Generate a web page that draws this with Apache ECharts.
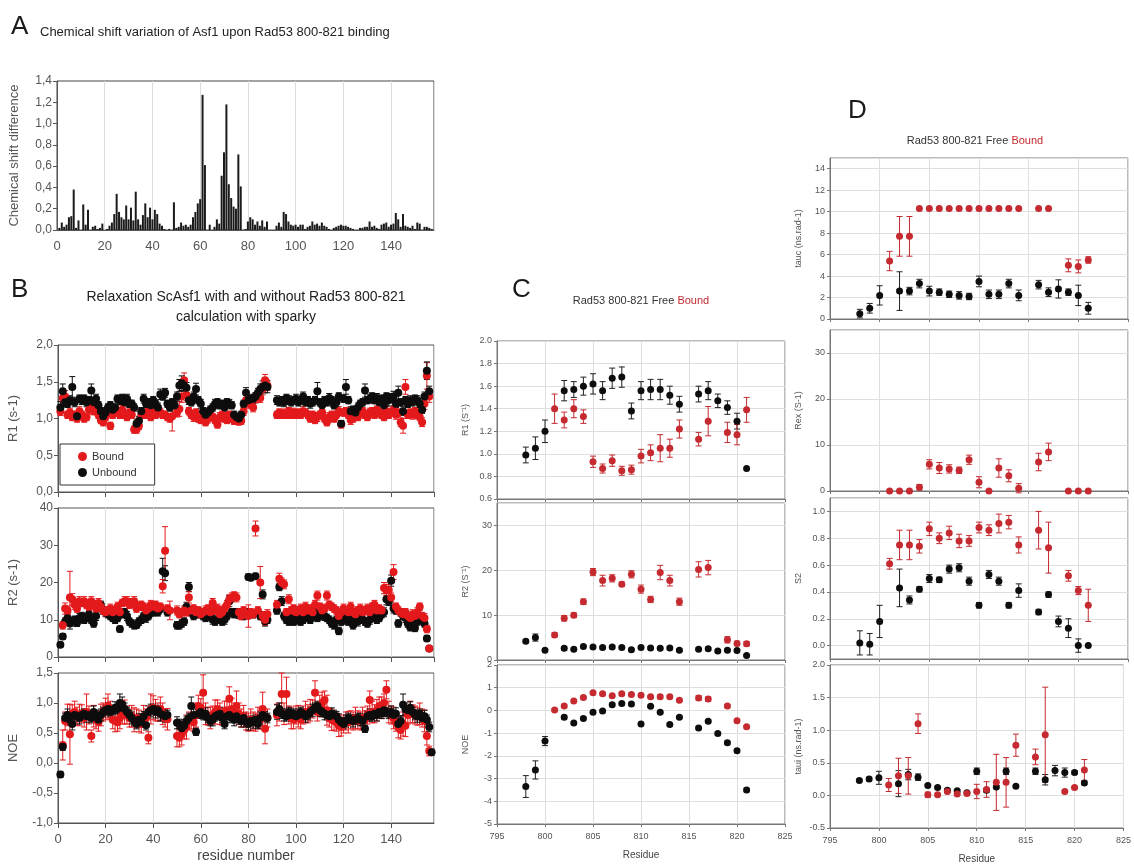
<!DOCTYPE html>
<html>
<head>
<meta charset="utf-8">
<script src="https://cdn.jsdelivr.net/npm/echarts/dist/echarts.min.js"></script>
<style>
html, body { margin: 0; padding: 0; background: #fff; }
#main { width: 1134px; height: 865px; }
</style>
</head>
<body>
<div id="main"></div>
<script>
/* ---------- A : chemical shift difference, residue 1..157 ---------- */
var shiftVal = [
  0.02, 0.07, 0.03, 0.05, 0.12, 0.13, 0.38, 0.02, 0.09, 0.00,
  0.24, 0.05, 0.19, 0.00, 0.03, 0.04, 0.01, 0.02, 0.06, 0.00,
  0.01, 0.04, 0.07, 0.15, 0.34, 0.17, 0.12, 0.10, 0.23, 0.10,
  0.21, 0.09, 0.36, 0.10, 0.05, 0.14, 0.25, 0.12, 0.21, 0.10,
  0.19, 0.15, 0.06, 0.04, 0.01, 0.00, 0.01, 0.00, 0.26, 0.02,
  0.03, 0.07, 0.04, 0.05, 0.03, 0.05, 0.12, 0.17, 0.25, 0.29,
  1.27, 0.61, 0.00, 0.05, 0.00, 0.03, 0.10, 0.06, 0.51, 0.73,
  1.18, 0.43, 0.30, 0.22, 0.20, 0.71, 0.41, 0.00, 0.01, 0.08,
  0.12, 0.10, 0.05, 0.08, 0.04, 0.09, 0.03, 0.08, 0.00, 0.00,
  0.00, 0.04, 0.07, 0.03, 0.17, 0.15, 0.08, 0.05, 0.04, 0.05,
  0.03, 0.05, 0.05, 0.01, 0.03, 0.04, 0.08, 0.05, 0.06, 0.04,
  0.07, 0.04, 0.03, 0.01, 0.00, 0.02, 0.03, 0.04, 0.05, 0.04,
  0.04, 0.03, 0.02, 0.01, 0.00, 0.00, 0.02, 0.02, 0.03, 0.03,
  0.08, 0.03, 0.04, 0.02, 0.01, 0.05, 0.06, 0.07, 0.03, 0.05,
  0.06, 0.16, 0.10, 0.03, 0.15, 0.04, 0.03, 0.02, 0.04, 0.01,
  0.07, 0.06, 0.00, 0.03, 0.03, 0.02, 0.01
];

/* ---------- B : relaxation of ScAsf1, residue 1..157 ---------- */
var r1Unbound = [
  1.15, 1.37, 1.22, 1.20, 1.25, 1.43, 1.22, 1.03, 1.27, 1.25,
  1.27, 1.22, 1.25, 1.38, 1.22, 1.27, 1.18, 1.10, 1.03, 1.08,
  1.15, 1.18, 1.12, 1.15, 1.27, 1.25, 1.28, 1.22, 1.27, 1.20,
  1.20, 1.15, 0.93, 0.97, 1.10, 1.27, 1.20, 1.22, 1.18, 1.25,
  1.20, 1.15, 1.33, 1.30, 1.35, 1.20, 1.15, 1.22, 1.18, 1.30,
  1.45, 1.48, 1.45, 1.42, 1.25, 1.22, 1.30, 1.40, 1.25, 1.20,
  1.10, 1.05, 1.08, 1.12, 1.15, 1.20, 1.22, 1.18, 1.20, 1.15,
  1.22, 1.20, 1.18, 1.05, 1.02, 1.00, 1.05, 1.20, 1.35, 1.25,
  1.27, 1.27, 1.30, 1.35, 1.40, 1.43, 1.45, 1.43, null, null,
  null, 1.25, 1.22, 1.25, 1.22, 1.28, 1.25, 1.22, 1.25, 1.27,
  1.22, 1.25, 1.30, 1.22, 1.25, 1.20, 1.22, 1.25, 1.37, 1.22,
  1.18, 1.25, 1.22, 1.28, 1.25, 1.18, 1.22, 1.30, 0.93, 1.27,
  1.43, 1.25, 1.10, 1.12, 1.08, 1.15, 1.20, 1.22, 1.38, 1.25,
  1.27, 1.30, 1.25, 1.28, 1.22, 1.27, 1.18, 1.30, 1.25, 1.28,
  1.30, 1.20, 1.35, 1.22, 1.10, 1.25, 1.20, 1.25, 1.22, 1.27,
  1.25, 1.20, 1.12, 1.30, 1.65, 1.37, null
];
var r1UnboundErr = [
  .08, .10, .06, .05, .06, .14, .06, .05, .05, .06,
  .05, .06, .05, .09, .05, .06, .05, .05, .05, .06,
  .05, .05, .06, .05, .05, .06, .05, .05, .06, .05,
  .05, .05, .05, .06, .05, .06, .05, .05, .06, .05,
  .05, .06, .07, .05, .06, .05, .05, .05, .05, .06,
  .08, .10, .08, .07, .06, .05, .06, .08, .05, .06,
  .05, .05, .06, .05, .05, .06, .05, .05, .05, .06,
  .05, .06, .05, .05, .05, .06, .05, .05, .07, .06,
  .05, .06, .05, .06, .07, .08, .10, .08, null, null,
  null, .06, .05, .05, .06, .05, .06, .05, .05, .06,
  .05, .05, .06, .05, .05, .06, .05, .05, .12, .05,
  .06, .05, .05, .06, .05, .05, .06, .05, .04, .05,
  .10, .05, .06, .05, .05, .06, .05, .05, .09, .05,
  .06, .05, .05, .06, .05, .05, .06, .05, .08, .06,
  .07, .05, .09, .05, .06, .05, .05, .06, .05, .05,
  .06, .05, .05, .06, .12, .07, null
];
var r1Bound = [
  1.10, 1.28, 1.30, 1.05, 1.08, 1.02, 1.05, 1.00, 1.10, 1.05,
  1.00, 1.02, 1.12, 1.15, 1.10, 1.12, 1.05, 0.98, 0.95, 1.02,
  1.08, 0.90, 1.05, 1.10, 1.08, 1.05, 1.12, 1.05, 1.02, 1.08,
  1.05, 0.85, 0.85, 0.90, 1.05, 1.08, 1.05, 1.10, 1.02, 1.08,
  1.05, 1.10, 1.08, 1.05, 1.05, 1.02, 1.00, 1.03, null, 1.08,
  1.13, 1.30, 1.52, 1.32, 1.10, 1.05, 1.02, 1.08, 1.00, 0.98,
  1.02, 0.95, 1.00, 1.05, 1.02, 0.98, 0.92, 1.02, 1.05, 1.00,
  0.98, 1.05, 1.00, 0.97, 0.98, 0.96, 0.97, 1.10, 1.25, 1.20,
  1.22, 1.15, 1.28, 1.30, 1.28, 1.40, 1.52, 1.45, null, null,
  null, 1.05, 1.08, 1.05, 1.07, 1.05, 1.10, 1.05, 1.08, 1.05,
  1.08, 1.05, 1.10, 1.08, 1.05, 1.00, 1.05, 0.98, 1.02, 1.05,
  1.08, 1.00, 0.95, 1.02, 1.05, 1.00, 1.05, 1.10, 0.92, 1.08,
  1.10, 1.05, 0.98, 1.00, 1.05, 1.02, 1.08, 1.10, 1.05, 1.02,
  1.08, 1.10, 1.05, 1.12, 1.08, 1.05, 1.02, 1.10, 1.05, 1.08,
  1.12, 1.05, 1.08, 0.95, 0.90, 1.43, 1.05, 1.08, 1.05, 1.10,
  1.05, 1.02, 0.95, 1.20, 1.58, 1.30, null
];
var r1BoundErr = [
  .06, .08, .08, .05, .06, .05, .05, .05, .06, .05,
  .05, .05, .06, .05, .05, .06, .05, .05, .05, .05,
  .05, .05, .05, .06, .05, .05, .06, .05, .05, .05,
  .05, .05, .05, .05, .05, .06, .05, .05, .05, .06,
  .05, .05, .06, .05, .05, .05, .05, .20, null, .06,
  .10, .08, .10, .08, .05, .05, .06, .05, .05, .05,
  .05, .05, .06, .05, .05, .05, .05, .06, .05, .05,
  .05, .05, .05, .05, .05, .05, .05, .06, .07, .06,
  .05, .06, .07, .08, .06, .08, .08, .07, null, null,
  null, .05, .05, .05, .06, .05, .05, .05, .06, .05,
  .05, .05, .06, .05, .05, .05, .05, .05, .06, .05,
  .05, .05, .05, .06, .05, .05, .05, .06, .05, .05,
  .05, .05, .06, .05, .05, .05, .06, .05, .05, .05,
  .06, .05, .05, .05, .06, .05, .05, .06, .05, .05,
  .05, .06, .05, .06, .10, .10, .05, .05, .06, .05,
  .05, .05, .06, .08, .18, .08, null
];
var r2Unbound = [
  3.3, 5.5, 9.5, 10.5, 9.0, 9.5, 10.0, 9.2, 10.5, 11.0,
  10.0, 10.5, 11.5, 10.0, 9.0, 11.0, 13.5, 14.0, 12.5, 12.0,
  11.5, 11.0, 10.5, 10.0, 10.5, 7.5, 11.5, 12.0, 11.0, 9.5,
  9.0, 8.5, 8.5, 9.5, 10.0, 11.0, 10.5, 11.0, 12.0, 12.0,
  12.5, 12.0, 13.0, 23.0, 22.5, 12.0, null, null, null, 8.5,
  8.5, 9.0, 9.5, 13.5, 18.8, 12.0, 11.0, 11.5, 12.0, 11.5,
  11.0, 10.5, 11.5, 11.0, 10.0, 9.5, 10.0, 10.5, 9.5, 10.0,
  11.0, 15.0, 12.0, 11.5, 12.0, 11.5, 12.0, 11.0, 12.0, 21.5,
  21.3, 11.5, 21.7, 12.0, 11.0, 16.8, 9.5, 10.0, null, null,
  null, 12.5, 18.8, 15.0, 11.0, 10.0, 9.5, 10.5, 9.5, 10.0,
  10.5, 9.5, 10.0, 11.0, 10.5, 10.0, 11.0, 12.0, 10.5, 11.0,
  11.5, 11.0, 10.5, 10.0, 9.0, 8.5, 10.0, 7.0, 9.5, 10.0,
  10.5, 9.5, 10.0, 8.5, 10.0, 9.5, 10.5, 10.0, 9.5, 9.0,
  10.0, 10.5, 11.0, 10.0, 10.5, 11.5, 12.0, 15.5, 15.0, 20.5,
  13.0, 12.5, 9.0, 12.0, 11.0, 10.5, 9.0, 8.0, 8.5, 7.8,
  9.5, 10.5, 10.0, 9.0, 5.0, 2.3, null
];
var r2UnboundErr = [
  .6, .8, 1.0, 1.2, 1.5, 1.2, 1.0, 1.0, 1.2, 1.0,
  1.0, 1.0, 1.2, 1.0, 1.0, 1.2, 1.0, 1.0, 1.0, 1.2,
  1.0, 1.0, 1.0, 1.0, 1.0, .8, 1.0, 1.0, 1.2, 1.0,
  1.0, 1.0, .8, 1.0, 1.0, 1.0, 1.2, 1.0, 1.0, 1.0,
  1.0, 1.0, 1.0, 3.5, 2.0, 1.0, null, null, null, 1.0,
  1.0, 1.0, 1.0, 1.2, 1.2, 1.0, 1.0, 1.0, 1.2, 1.0,
  1.0, 1.0, 1.0, 1.0, 1.2, 1.0, 1.0, 1.0, 1.0, 1.2,
  1.0, 1.5, 1.0, 1.0, 1.0, 1.2, 1.0, 1.0, 1.0, .8,
  .8, 1.0, .8, 1.0, 1.0, 1.2, 1.2, 1.0, null, null,
  null, 1.0, 1.0, 1.2, 1.0, 1.0, 1.0, 1.0, 1.0, 1.2,
  1.0, 1.0, 1.0, 1.2, 1.0, 1.0, 1.0, 1.2, 1.0, 1.0,
  1.0, 1.2, 1.0, 1.0, 1.0, 1.0, 1.0, 1.0, 1.0, 1.2,
  1.0, 1.0, 1.0, 1.0, 1.0, 1.2, 1.0, 1.0, 1.0, 1.0,
  1.2, 1.0, 1.0, 1.0, 1.0, 1.0, 1.2, 1.5, 1.2, 1.5,
  1.2, 1.0, 1.0, 1.0, 1.0, 1.2, 1.0, 1.0, 1.0, 1.0,
  1.0, 1.0, 1.2, 1.0, .8, .5, null
];
var r2Bound = [
  null, 8.5, 13.0, 12.5, 16.0, 15.5, 14.0, 13.0, 15.0, 14.5,
  15.0, 14.0, 13.5, 15.0, 14.0, 13.0, 14.5, 13.5, 12.5, 12.0,
  12.5, 13.0, 12.0, 12.5, 13.5, 12.0, 14.5, 15.0, 15.0, 14.0,
  14.5, 15.0, 13.0, 13.5, 14.0, 13.5, 12.5, 13.0, 14.0, 13.5,
  14.0, 13.0, 13.5, 19.0, 28.5, 13.0, 12.5, null, null, 12.5,
  11.5, 12.0, 12.5, 12.0, 16.0, 12.5, 13.0, 12.0, 12.5, 11.5,
  12.0, 12.5, 13.0, 12.0, 14.5, 12.5, 13.0, 11.5, 12.0, 13.0,
  14.0, 15.5, 16.0, 16.5, 16.0, 12.0, 11.0, 12.5, 11.5, 11.0,
  12.0, 11.5, 34.5, 12.5, 20.0, 11.0, 10.0, 11.5, null, null,
  null, 14.0, 21.0, 20.0, 19.5, 12.0, 15.5, 12.5, 13.0, 12.0,
  12.5, 13.0, 12.0, 13.5, 12.5, 13.0, 12.0, 14.0, 16.5, 13.5,
  12.5, 13.0, 16.5, 14.0, 13.5, 13.0, 12.5, 11.0, 12.0, 13.0,
  12.5, 12.0, 13.5, 12.0, 11.5, 12.5, 13.0, 12.0, 12.5, 13.0,
  12.0, 13.5, 14.0, 12.5, 13.0, 12.5, 18.5, 18.0, 18.0, 16.0,
  22.8, 13.5, 12.5, 12.0, 11.5, 12.0, 11.0, 10.5, 11.5, 11.0,
  12.0, 13.5, 11.0, 10.5, 7.5, 2.3, null
];
var r2BoundErr = [
  null, 1.0, 1.5, 1.2, 7.0, 1.5, 1.2, 1.0, 1.2, 1.0,
  1.2, 1.0, 1.0, 1.2, 1.0, 1.0, 1.2, 1.0, 1.0, 1.0,
  1.0, 1.2, 1.0, 1.0, 1.2, 1.0, 1.0, 1.2, 1.2, 1.0,
  1.2, 1.2, 1.0, 1.0, 1.0, 1.0, 1.0, 1.0, 1.2, 1.0,
  1.0, 1.0, 1.0, 1.8, 6.5, 1.0, 2.5, null, null, 1.2,
  1.0, 1.0, 1.2, 1.0, 1.5, 1.0, 1.0, 1.0, 1.0, 1.0,
  1.0, 1.2, 1.0, 1.0, 1.2, 1.0, 1.2, 1.0, 1.0, 1.0,
  1.2, 1.2, 1.2, 1.0, 1.2, 1.0, 1.0, 1.0, 1.0, 3.0,
  1.0, 1.0, 2.0, 1.0, 4.3, 1.2, 1.5, 1.2, null, null,
  null, 1.2, 1.5, 1.2, 1.2, 1.0, 1.2, 1.0, 1.0, 1.0,
  1.0, 1.2, 1.0, 1.2, 1.0, 1.0, 1.0, 1.2, 1.2, 1.0,
  1.0, 1.2, 1.2, 1.0, 1.0, 1.0, 1.0, 1.0, 1.0, 1.2,
  1.0, 1.0, 1.2, 1.0, 1.0, 1.0, 1.2, 1.0, 1.0, 1.2,
  1.0, 1.0, 1.2, 1.0, 1.0, 1.0, 1.5, 1.5, 1.5, 1.2,
  2.0, 1.0, 1.0, 1.0, 1.0, 1.0, 1.0, 1.0, 1.2, 1.0,
  1.2, 1.0, 1.0, 1.2, 1.0, .5, null
];
var noeUnbound = [
  -0.19, 0.27, 0.75, 0.80, 0.72, 0.65, 0.80, 0.78, 0.75, 0.80,
  0.82, 0.78, 0.80, 0.75, 0.85, 0.80, 0.72, 0.80, 0.85, 0.88,
  0.90, 0.85, 0.88, 0.92, 0.90, 1.00, 0.98, 0.90, 0.85, 0.80,
  0.75, 0.70, 0.65, 0.72, 0.68, 0.78, 0.63, 0.85, 0.88, 0.90,
  0.85, 0.88, 0.82, 0.80, 0.78, 0.80, null, null, null, 0.67,
  0.65, 0.58, 0.62, 0.70, 0.75, 0.95, 0.80, 0.52, 0.82, 0.85,
  0.80, 0.82, 0.75, 0.70, 0.72, 0.78, 0.80, 0.82, 0.75, 0.65,
  0.78, 0.80, 0.75, 0.72, 0.78, 0.73, 0.70, 0.75, 0.68, 0.65,
  0.70, 0.68, 0.72, 0.65, 0.75, 0.80, 0.78, 0.75, null, null,
  null, 0.85, 0.90, 0.82, 0.80, 0.78, 0.85, 0.80, 0.82, 0.78,
  0.80, 0.85, 0.82, 0.78, 0.80, 0.85, 0.88, 0.92, 0.95, 0.88,
  0.85, 0.82, 0.80, 0.78, 0.82, 0.80, 0.78, 0.72, 0.68, 0.65,
  0.70, 0.75, 0.72, 0.70, 0.72, 0.75, 0.72, 0.70, 0.57, 0.78,
  0.80, 0.78, 0.82, 0.80, 0.85, 0.82, 0.88, 0.85, 0.82, 0.85,
  0.80, 0.82, 0.65, 0.70, 0.97, 0.90, 0.88, 0.92, 0.85, 0.80,
  0.78, 0.82, 0.75, 0.78, 0.72, 0.60, 0.18
];
var noeUnboundErr = [
  .05, .06, .08, .10, .08, .10, .08, .08, .10, .08,
  .08, .10, .08, .08, .10, .08, .08, .10, .08, .08,
  .10, .08, .08, .10, .08, .15, .12, .10, .08, .08,
  .10, .08, .08, .10, .08, .08, .08, .10, .10, .08,
  .10, .08, .12, .08, .10, .08, null, null, null, .10,
  .08, .08, .10, .08, .08, .15, .10, .06, .08, .10,
  .08, .10, .08, .08, .10, .08, .08, .10, .08, .08,
  .10, .08, .08, .10, .08, .08, .10, .08, .08, .10,
  .08, .10, .08, .08, .10, .10, .08, .08, null, null,
  null, .12, .10, .08, .10, .08, .08, .10, .08, .08,
  .10, .08, .08, .10, .08, .08, .10, .08, .08, .10,
  .08, .10, .08, .08, .10, .08, .08, .10, .08, .08,
  .10, .08, .08, .10, .08, .08, .10, .08, .06, .08,
  .10, .08, .08, .10, .08, .08, .10, .08, .08, .10,
  .08, .10, .08, .08, .18, .10, .08, .10, .08, .08,
  .10, .08, .08, .10, .08, .08, .05
];
var noeBound = [
  null, 0.30, 0.70, 0.80, 0.48, 0.82, 0.85, 0.78, 0.80, 0.82,
  0.75, 0.85, 0.80, 0.45, 0.78, 0.72, 0.68, 0.80, 0.85, 0.90,
  0.95, 0.88, 0.72, 0.70, 0.68, 0.75, 0.80, 0.85, 0.80, 0.75,
  0.78, 0.72, 0.75, 0.70, 0.65, 0.78, 0.75, 0.42, 0.90, 0.92,
  0.88, 0.85, 0.90, 0.82, 0.75, 0.73, null, null, null, 0.45,
  0.42, 0.48, 0.55, 0.60, 0.70, 0.75, 0.68, 0.80, 0.95, 0.92,
  1.17, 0.82, 0.78, 0.75, 0.80, 0.85, 0.90, 0.82, 0.78, 0.85,
  0.88, 1.07, 0.90, 0.85, 0.95, 0.82, 0.75, 0.78, 0.70, 0.68,
  0.72, 0.70, 0.68, 0.75, 0.72, 0.90, 0.57, 0.75, null, null,
  null, 0.80, 0.85, 1.15, 0.82, 1.15, 0.80, 0.75, 0.72, 0.80,
  0.78, 0.72, 0.80, 0.85, 0.82, 0.88, 0.90, 1.17, 0.85, 0.95,
  1.00, 1.05, 0.88, 0.75, 0.72, 0.70, 0.68, 0.62, 0.60, 0.65,
  0.70, 0.68, 0.72, 0.70, 0.75, 0.72, 0.70, 0.75, 0.72, 0.80,
  1.05, 0.85, 0.82, 0.88, 0.95, 0.92, 1.00, 1.22, 0.85, 0.80,
  0.75, 0.68, 0.60, 0.55, 0.65, 0.62, 0.80, 0.85, 0.82, 0.80,
  0.78, 0.82, 0.75, 0.70, 0.45, 0.20, null
];
var noeBoundErr = [
  null, .25, .15, .18, .50, .15, .18, .15, .18, .15,
  .15, .30, .15, .10, .18, .15, .15, .18, .15, .18,
  .20, .15, .15, .18, .15, .18, .15, .20, .15, .15,
  .18, .20, .15, .18, .15, .18, .15, .10, .25, .20,
  .18, .15, .20, .18, .15, .18, null, null, null, .18,
  .15, .18, .15, .20, .15, .18, .15, .20, .18, .15,
  .30, .18, .15, .18, .15, .20, .15, .18, .15, .18,
  .15, .20, .18, .15, .25, .18, .15, .18, .15, .15,
  .18, .15, .15, .18, .15, .28, .25, .15, null, null,
  null, .18, .15, .35, .18, .28, .15, .18, .15, .15,
  .18, .15, .15, .18, .15, .18, .15, .20, .15, .18,
  .18, .15, .25, .15, .18, .15, .15, .18, .15, .15,
  .15, .18, .15, .15, .18, .15, .15, .18, .15, .15,
  .15, .18, .15, .18, .15, .18, .15, .15, .18, .15,
  .18, .15, .18, .15, .20, .18, .15, .18, .15, .15,
  .15, .18, .15, .18, .15, .08, null
];

/* ---------- C and D : Rad53 800-821 peptide ---------- */
var pepRes = [798, 799, 800, 801, 802, 803, 804, 805, 806, 807, 808, 809,
              810, 811, 812, 813, 814, 815, 816, 817, 818, 819, 820, 821];

var cR1Free      = [0.99, 1.05, 1.20, null, 1.56, 1.57, 1.60, 1.62, 1.56, 1.67, 1.68, 1.38, 1.56, 1.57, 1.57, 1.52, 1.44, null, 1.53, 1.56, 1.47, 1.41, 1.29, 0.87];
var cR1FreeErr   = [0.07, 0.10, 0.10, null, 0.09, 0.07, 0.08, 0.09, 0.08, 0.09, 0.09, 0.07, 0.08, 0.09, 0.09, 0.08, 0.07, null, 0.07, 0.08, 0.06, 0.06, 0.07, 0];
var cR1Bound     = [null, null, null, 1.40, 1.30, 1.40, 1.33, 0.93, 0.87, 0.94, 0.85, 0.86, 0.98, 1.01, 1.05, 1.05, 1.22, null, 1.13, 1.29, null, 1.19, 1.17, 1.39];
var cR1BoundErr  = [null, null, null, 0.13, 0.07, 0.08, 0.06, 0.05, 0.04, 0.05, 0.04, 0.04, 0.06, 0.07, 0.12, 0.08, 0.08, null, 0.06, 0.13, null, 0.09, 0.09, 0.11];

var cR2Free      = [4.2, 5.0, 2.2, null, 2.6, 2.4, 3.0, 2.9, 2.8, 2.9, 2.8, 2.3, 2.8, 2.7, 2.6, 2.7, 2.2, null, 2.4, 2.5, 2.0, 2.2, 2.1, 1.0];
var cR2FreeErr   = [0.4, 0.8, 0.3, null, 0.4, 0.3, 0.3, 0.3, 0.3, 0.3, 0.3, 0.3, 0.3, 0.3, 0.3, 0.3, 0.3, null, 0.3, 0.3, 0.3, 0.3, 0.3, 0.2];
var cR2Bound     = [null, null, null, 5.6, 9.3, 10.0, 13.0, 19.6, 17.7, 18.2, 16.9, 19.1, 15.8, 13.5, 19.5, 17.7, 13.0, null, 20.2, 20.6, null, 4.5, 3.7, 3.6];
var cR2BoundErr  = [null, null, null, 0.5, 0.6, 0.5, 0.6, 0.8, 1.2, 0.8, 0.5, 0.8, 0.9, 0.7, 1.6, 1.2, 0.8, null, 1.7, 1.6, null, 0.7, 0.5, 0.5];

var cNoeFree     = [-3.35, -2.62, -1.35, null, -0.30, -0.55, -0.35, -0.08, -0.03, 0.25, 0.30, 0.28, -0.60, 0.18, -0.08, -0.62, -0.30, null, -0.77, -0.48, -1.02, -1.42, -1.77, -3.50];
var cNoeFreeErr  = [0.48, 0.40, 0.20, null, 0.08, 0.06, 0.06, 0.06, 0.05, 0.06, 0.05, 0.06, 0.06, 0.05, 0.06, 0.06, 0.06, null, 0.06, 0.06, 0.06, 0.07, 0.07, 0.08];
var cNoeBound    = [null, null, null, 0.02, 0.20, 0.42, 0.57, 0.78, 0.73, 0.65, 0.73, 0.70, 0.67, 0.60, 0.60, 0.60, 0.45, null, 0.55, 0.50, null, 0.20, -0.45, -0.72];
var cNoeBoundErr = [null, null, null, 0.05, 0.05, 0.05, 0.06, 0.06, 0.06, 0.05, 0.06, 0.05, 0.06, 0.05, 0.08, 0.06, 0.05, null, 0.10, 0.10, null, 0.05, 0.05, 0.05];

var dTaucFree     = [0.5, 1.0, 2.2, null, 2.6, 2.6, 3.3, 2.6, 2.5, 2.3, 2.2, 2.1, 3.5, 2.3, 2.3, 3.3, 2.2, null, 3.2, 2.5, 2.8, 2.5, 2.2, 1.0];
var dTaucFreeErr  = [0.4, 0.45, 0.9, null, 1.8, 0.35, 0.4, 0.45, 0.3, 0.3, 0.35, 0.3, 0.5, 0.4, 0.4, 0.4, 0.5, null, 0.4, 0.4, 0.85, 0.3, 0.95, 0.55];
var dTaucBound    = [null, null, null, 5.4, 7.7, 7.7, 10.3, 10.3, 10.3, 10.3, 10.3, 10.3, 10.3, 10.3, 10.3, 10.3, 10.3, null, 10.3, 10.3, null, 5.0, 4.9, 5.5];
var dTaucBoundErr = [null, null, null, 0.9, 1.85, 1.85, 0, 0, 0, 0, 0, 0, 0, 0, 0, 0, 0, null, 0, 0, null, 0.6, 0.6, 0.3];

var dRexBound     = [null, null, null, 0, 0, 0, 0.8, 5.8, 5.0, 4.8, 4.5, 6.8, 1.9, 0, 5.0, 3.3, 0.6, null, 6.3, 8.5, null, 0, 0, 0];
var dRexBoundErr  = [null, null, null, 0, 0, 0, 0.6, 1.0, 1.2, 0.9, 0.7, 1.0, 1.2, 0, 2.0, 1.3, 1.0, null, 1.9, 1.9, null, 0, 0, 0];

var dS2Free       = [0.02, 0.01, 0.18, null, 0.43, 0.34, 0.42, 0.50, 0.49, 0.57, 0.58, 0.48, 0.30, 0.53, 0.48, 0.30, 0.41, null, 0.25, 0.38, 0.18, 0.13, 0.00, 0.00];
var dS2FreeErr    = [0.09, 0.08, 0.12, null, 0.14, 0.03, 0.02, 0.03, 0.02, 0.03, 0.03, 0.03, 0.02, 0.03, 0.03, 0.02, 0.05, null, 0.02, 0.02, 0.04, 0.07, 0.05, 0];
var dS2Bound      = [null, null, null, 0.61, 0.75, 0.75, 0.74, 0.87, 0.80, 0.84, 0.78, 0.78, 0.88, 0.86, 0.91, 0.92, 0.75, null, 0.86, 0.73, null, 0.52, 0.41, 0.30];
var dS2BoundErr   = [null, null, null, 0.04, 0.11, 0.11, 0.05, 0.05, 0.04, 0.05, 0.05, 0.04, 0.04, 0.04, 0.07, 0.05, 0.06, null, 0.14, 0.19, null, 0.04, 0.03, 0.12];

var dTauiFree     = [0.23, 0.25, 0.27, null, 0.18, 0.32, 0.28, 0.15, 0.12, 0.08, 0.07, 0.04, 0.37, 0.08, 0.13, 0.37, 0.14, null, 0.37, 0.24, 0.38, 0.35, 0.35, 0.19];
var dTauiFreeErr  = [0.02, 0.03, 0.10, null, 0.20, 0.08, 0.05, 0.02, 0.02, 0.02, 0.02, 0.02, 0.05, 0.03, 0.02, 0.05, 0.02, null, 0.05, 0.08, 0.08, 0.07, 0.03, 0.02];
var dTauiBound    = [null, null, null, 0.16, 0.30, 0.30, 1.10, 0.01, 0.01, 0.06, 0.02, 0.03, 0.06, 0.09, 0.20, 0.20, 0.77, null, 0.59, 0.93, null, 0.06, 0.12, 0.39];
var dTauiBoundErr = [null, null, null, 0.10, 0.27, 0.28, 0.15, 0.04, 0.02, 0.02, 0.02, 0.02, 0.11, 0.12, 0.43, 0.38, 0.17, null, 0.12, 0.73, null, 0.02, 0.02, 0.16];

/* ---------- helpers ---------- */
var FONT = 'Liberation Sans, Arial, sans-serif';
var RED_B = '#e3191c';
var RED_C = '#c42a2f';
var BLACK = '#0d0d0d';

// residue numbers 1..157 for panels A and B
var seqRes = [];
for (var k = 1; k <= 157; k++) seqRes.push(k);

function pts(xs, ys) {
  var out = [];
  for (var i = 0; i < xs.length; i++) if (ys[i] != null) out.push([xs[i], ys[i]]);
  return out;
}
function errPts(xs, ys, es) {
  var out = [];
  for (var i = 0; i < xs.length; i++) if (ys[i] != null && es[i]) out.push([xs[i], ys[i], es[i]]);
  return out;
}
function comma(v) { return v.toFixed(1).replace('.', ','); }
function dot1(v) { return v.toFixed(1); }

// error bars drawn through the axes' own coordinate system
function errSeries(gi, data, color, cap) {
  return {
    type: 'custom', xAxisIndex: gi, yAxisIndex: gi, data: data, silent: true, z: 2,
    encode: { x: 0, y: 1 },
    renderItem: function (params, api) {
      var x = api.value(0), y = api.value(1), e = api.value(2);
      var hi = api.coord([x, y + e]), lo = api.coord([x, y - e]);
      var st = { stroke: color, lineWidth: 1, fill: null };
      return {
        type: 'group',
        children: [
          { type: 'line', shape: { x1: hi[0], y1: hi[1], x2: lo[0], y2: lo[1] }, style: st },
          { type: 'line', shape: { x1: hi[0] - cap, y1: hi[1], x2: hi[0] + cap, y2: hi[1] }, style: st },
          { type: 'line', shape: { x1: lo[0] - cap, y1: lo[1], x2: lo[0] + cap, y2: lo[1] }, style: st }
        ]
      };
    }
  };
}
function dotSeries(gi, name, data, color, size) {
  return {
    type: 'scatter', name: name, xAxisIndex: gi, yAxisIndex: gi, data: data,
    symbol: 'circle', symbolSize: size, itemStyle: { color: color, opacity: 1 }, z: 3, silent: true
  };
}

// axis factories
function xAxisAB(gi, showLabels, name) {
  return {
    type: 'value', gridIndex: gi, min: 0, max: 158, interval: 20,
    axisLine: { show: true, onZero: false, lineStyle: { color: '#555' } },
    axisTick: { show: gi > 0, length: 5, lineStyle: { color: '#555' } },
    axisLabel: { show: showLabels, margin: 10, fontSize: 13, color: '#555', fontFamily: FONT, showMaxLabel: false },
    splitLine: { show: true, lineStyle: { color: '#dcdcdc' } },
    name: name || '', nameLocation: 'middle', nameGap: 26,
    nameTextStyle: { fontSize: 14, color: '#444', fontFamily: FONT }
  };
}
function yAxisAB(gi, min, max, step, fmt, name, gap) {
  return {
    type: 'value', gridIndex: gi, min: min, max: max, interval: step,
    axisLine: { show: true, onZero: false, lineStyle: { color: '#555' } },
    axisTick: { show: true, length: 4, lineStyle: { color: '#555' } },
    axisLabel: { margin: 5, fontSize: 12, color: '#555', fontFamily: FONT, formatter: fmt },
    splitLine: { show: false },
    name: name, nameLocation: 'middle', nameGap: gap,
    nameTextStyle: { fontSize: 13, color: '#555', fontFamily: FONT }
  };
}
function xAxisCD(gi, showLabels) {
  return {
    type: 'value', gridIndex: gi, min: 795, max: 825, interval: 5,
    axisLine: { show: true, onZero: false, lineStyle: { color: '#777' } },
    axisTick: { show: true, length: 3, lineStyle: { color: '#777' } },
    axisLabel: { show: showLabels, margin: 8, fontSize: 9, color: '#555', fontFamily: FONT },
    splitLine: { show: true, lineStyle: { color: '#dedede' } },
    name: showLabels ? 'Residue' : '', nameLocation: 'middle', nameGap: 26,
    nameTextStyle: { fontSize: 10, color: '#444', fontFamily: FONT }
  };
}
function yAxisCD(gi, o) {
  return {
    type: 'value', gridIndex: gi, min: o.min, max: o.max, interval: o.step, splitNumber: o.split,
    axisLine: { show: true, onZero: false, lineStyle: { color: '#777' } },
    axisTick: { show: true, length: 3, lineStyle: { color: '#777' } },
    axisLabel: { margin: 5, fontSize: 9, color: '#555', fontFamily: FONT, formatter: o.fmt,
                 showMaxLabel: !o.hideMax, showMinLabel: !o.hideMin },
    splitLine: { show: true, lineStyle: { color: '#dedede' } },
    name: o.name, nameLocation: 'middle', nameGap: o.gap || 27,
    nameTextStyle: { fontSize: 9, color: '#555', fontFamily: FONT }
  };
}

/* ---------- layout ---------- */
var gridBox = [
  { left: 57,  top: 81,  width: 377, height: 149, borderColor: '#444' }, // A
  { left: 58,  top: 345, width: 376, height: 147, borderColor: '#555' }, // B R1
  { left: 58,  top: 508, width: 376, height: 149, borderColor: '#555' }, // B R2
  { left: 58,  top: 673, width: 376, height: 150, borderColor: '#555' }, // B NOE
  { left: 497, top: 341, width: 288, height: 158, borderColor: '#777' }, // C R1
  { left: 497, top: 503, width: 288, height: 157, borderColor: '#777' }, // C R2
  { left: 497, top: 665, width: 288, height: 159, borderColor: '#777' }, // C NOE
  { left: 830, top: 158, width: 298, height: 161, borderColor: '#777' }, // D tauc
  { left: 830, top: 330, width: 298, height: 161, borderColor: '#777' }, // D Rex
  { left: 830, top: 498, width: 298, height: 161, borderColor: '#777' }, // D S2
  { left: 830, top: 665, width: 298, height: 164, borderColor: '#777' }  // D taui
];
gridBox.forEach(function (g) { g.show = true; g.borderWidth = 1; g.backgroundColor = 'transparent'; g.containLabel = false; });

var xAxes = [
  xAxisAB(0, true),
  xAxisAB(1, false), xAxisAB(2, false), xAxisAB(3, true, 'residue number'),
  xAxisCD(4, false), xAxisCD(5, false), xAxisCD(6, true),
  xAxisCD(7, false), xAxisCD(8, false), xAxisCD(9, false), xAxisCD(10, true)
];
var yAxes = [
  yAxisAB(0, 0, 1.4, 0.2, comma, 'Chemical shift difference', 36),
  yAxisAB(1, 0, 2.0, 0.5, comma, 'R1 (s-1)', 38),
  yAxisAB(2, 0, 40, 10, null, 'R2 (s-1)', 38),
  yAxisAB(3, -1.0, 1.5, 0.5, comma, 'NOE', 38),
  yAxisCD(4, { min: 0.6, max: 2.0, step: 0.2, fmt: dot1, name: 'R1 (S\u207B\u00B9)' }),
  yAxisCD(5, { min: 0, max: 35, step: 10, hideMax: true, name: 'R2 (S\u207B\u00B9)' }),
  yAxisCD(6, { min: -5, max: 2, step: 1, name: 'NOE' }),
  yAxisCD(7, { min: 0, max: 15, step: 2, hideMax: true, name: 'tauc (ns.rad-1)' }),
  yAxisCD(8, { min: 0, max: 35, step: 10, hideMax: true, name: 'Rex (S-1)' }),
  yAxisCD(9, { min: -0.1, max: 1.1, split: 6, hideMax: true, hideMin: true, fmt: dot1, name: 'S2' }),
  yAxisCD(10, { min: -0.5, max: 2.0, step: 0.5, fmt: dot1, name: 'taui (ns.rad-1)' })
];

/* ---------- series ---------- */
var series = [];
// A: bars
series.push({
  type: 'bar', xAxisIndex: 0, yAxisIndex: 0, barWidth: 2, silent: true,
  data: pts(seqRes, shiftVal), itemStyle: { color: '#1b1b1b' }
});
// B R1 (black on top)
series.push(errSeries(1, errPts(seqRes, r1Bound, r1BoundErr), RED_B, 3));
series.push(dotSeries(1, 'Bound', pts(seqRes, r1Bound), RED_B, 8));
series.push(errSeries(1, errPts(seqRes, r1Unbound, r1UnboundErr), BLACK, 3));
series.push(dotSeries(1, 'Unbound', pts(seqRes, r1Unbound), BLACK, 8));
// B R2 (red on top)
series.push(errSeries(2, errPts(seqRes, r2Unbound, r2UnboundErr), BLACK, 3));
series.push(dotSeries(2, 'R2 unbound', pts(seqRes, r2Unbound), BLACK, 8));
series.push(errSeries(2, errPts(seqRes, r2Bound, r2BoundErr), RED_B, 3));
series.push(dotSeries(2, 'R2 bound', pts(seqRes, r2Bound), RED_B, 8));
// B NOE
series.push(errSeries(3, errPts(seqRes, noeBound, noeBoundErr), RED_B, 3));
series.push(dotSeries(3, 'NOE bound', pts(seqRes, noeBound), RED_B, 8));
series.push(errSeries(3, errPts(seqRes, noeUnbound, noeUnboundErr), BLACK, 3));
series.push(dotSeries(3, 'NOE unbound', pts(seqRes, noeUnbound), BLACK, 8));

// C and D panels
var pepPanels = [
  [4, cR1Free, cR1FreeErr, cR1Bound, cR1BoundErr],
  [5, cR2Free, cR2FreeErr, cR2Bound, cR2BoundErr],
  [6, cNoeFree, cNoeFreeErr, cNoeBound, cNoeBoundErr],
  [7, dTaucFree, dTaucFreeErr, dTaucBound, dTaucBoundErr],
  [8, null, null, dRexBound, dRexBoundErr],
  [9, dS2Free, dS2FreeErr, dS2Bound, dS2BoundErr],
  [10, dTauiFree, dTauiFreeErr, dTauiBound, dTauiBoundErr]
];
pepPanels.forEach(function (p) {
  var gi = p[0];
  if (p[1]) {
    series.push(errSeries(gi, errPts(pepRes, p[1], p[2]), '#222', 3));
    series.push(dotSeries(gi, 'free ' + gi, pts(pepRes, p[1]), BLACK, 7));
  }
  series.push(errSeries(gi, errPts(pepRes, p[3], p[4]), RED_C, 3));
  series.push(dotSeries(gi, 'bound ' + gi, pts(pepRes, p[3]), RED_C, 7));
});

/* ---------- texts ---------- */
function txt(x, y, text, size, align, extra) {
  var st = { text: text, x: x, y: y, fill: '#1a1a1a', fontSize: size, fontFamily: FONT,
             align: align, verticalAlign: 'middle', textAlign: align, textVerticalAlign: 'middle' };
  if (extra) for (var key in extra) st[key] = extra[key];
  return { type: 'text', style: st, silent: true };
}
var pepTitleRich = {
  f: { fontSize: 11, fontFamily: FONT, fill: '#333', color: '#333' },
  b: { fontSize: 11, fontFamily: FONT, fill: RED_C, color: RED_C }
};
var graphics = [
  txt(11, 27, 'A', 26, 'left'),
  txt(40, 32, 'Chemical shift variation of Asf1 upon Rad53 800-821 binding', 13, 'left', { fill: '#222' }),
  txt(11, 290, 'B', 26, 'left'),
  txt(246, 297, 'Relaxation ScAsf1 with and without Rad53 800-821', 14, 'center', { fill: '#222' }),
  txt(246, 317, 'calculation with sparky', 14, 'center', { fill: '#222' }),
  txt(512, 290, 'C', 26, 'left'),
  txt(641, 301, '{f|Rad53 800-821 Free} {b|Bound}', 11, 'center', { rich: pepTitleRich }),
  txt(848, 111, 'D', 26, 'left'),
  txt(975, 141, '{f|Rad53 800-821 Free} {b|Bound}', 11, 'center', { rich: pepTitleRich })
];

var myChart = echarts.init(document.getElementById('main'), null, { renderer: 'canvas' });
var option = {
  backgroundColor: '#fff',
  animation: false,
  grid: gridBox,
  xAxis: xAxes,
  yAxis: yAxes,
  series: series,
  graphic: graphics,
  legend: {
    data: ['Bound', 'Unbound'],
    orient: 'vertical', left: 60, top: 444,
    padding: [7, 18, 7, 18], itemGap: 5, itemWidth: 9, itemHeight: 9, icon: 'circle',
    borderColor: '#333', borderWidth: 1, backgroundColor: '#fff',
    selectedMode: false,
    textStyle: { fontSize: 11, color: '#333', fontFamily: FONT }
  }
};
myChart.setOption(option);
</script>
</body>
</html>
